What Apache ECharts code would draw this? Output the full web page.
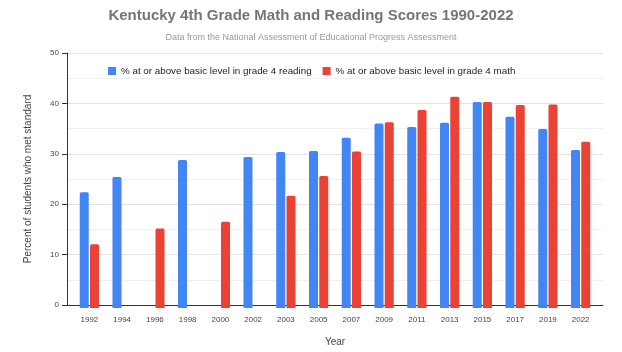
<!DOCTYPE html>
<html><head><meta charset="utf-8">
<script src="https://cdn.jsdelivr.net/npm/echarts@6/dist/echarts.min.js"></script>
<style>html,body{margin:0;padding:0;background:#fff}#c{width:622px;height:352px}</style>
</head><body><div id="c"></div>
<script>
const years = ['1992','1994','1996','1998','2000','2002','2003','2005','2007','2009','2011','2013','2015','2017','2019','2022'];
const reading = [22.7, 25.7, null, 29.0, null, 29.6, 30.6, 30.8, 33.4, 36.2, 35.5, 36.3, 40.4, 37.5, 35.1, 31.0];
const math = [12.5, null, 15.6, null, 16.9, null, 22.0, 25.9, 30.7, 36.4, 38.8, 41.4, 40.4, 39.8, 39.9, 32.6];
const seriesNames = ['% at or above basic level in grade 4 reading', '% at or above basic level in grade 4 math'];

const F = 'Arial, "Liberation Sans", sans-serif';
const chart = echarts.init(document.getElementById('c'), null, {renderer:'canvas'});
chart.setOption({
  animation:false,
  title:{
    text:'Kentucky 4th Grade Math and Reading Scores 1990-2022',
    subtext:'Data from the National Assessment of Educational Progress Assessment',
    left:'center', top:3, itemGap:10,
    textStyle:{fontFamily:F, fontSize:15, fontWeight:'bold', color:'#757575'},
    subtextStyle:{fontFamily:F, fontSize:9, color:'#999'}
  },
  legend:{
    left:103, top:61, itemWidth:8, itemHeight:8, itemGap:11, icon:'rect',
    textStyle:{fontFamily:F, fontSize:9.8, color:'#222'}
  },
  grid:[
    {left:67, right:19, top:53, bottom:44, containLabel:false},
    {left:73, right:25, top:53, bottom:44, containLabel:false}
  ],
  xAxis:[
    {
      gridIndex:0, type:'value', min:0, max:1,
      name:'Year', nameLocation:'middle', nameGap:32,
      nameTextStyle:{fontFamily:F, fontSize:10, color:'#444'},
      axisLine:{show:true, lineStyle:{color:'#333'}},
      axisTick:{show:false}, axisLabel:{show:false}, splitLine:{show:false}
    },
    {
      gridIndex:1, type:'category', data:years,
      axisLine:{show:false},
      axisTick:{show:false},
      axisLabel:{fontFamily:F, fontSize:8, color:'#444', margin:8, interval:0}
    }
  ],
  yAxis:[
    {
      gridIndex:0, type:'value', min:0, max:50, interval:10,
      name:'Percent of students who met standard', nameLocation:'middle', nameGap:34,
      nameTextStyle:{fontFamily:F, fontSize:10, color:'#444'},
      axisLine:{show:true, lineStyle:{color:'#333'}},
      axisTick:{show:true, length:5, lineStyle:{color:'#333'}},
      axisLabel:{fontFamily:F, fontSize:8, color:'#444', margin:8},
      splitLine:{lineStyle:{color:'#e3e3e3'}},
      minorTick:{show:false, splitNumber:2},
      minorSplitLine:{show:true, lineStyle:{color:'#efefef'}}
    },
    {
      gridIndex:1, type:'value', min:0, max:50, show:false
    }
  ],
  series:[
    {name:seriesNames[0], type:'bar', xAxisIndex:1, yAxisIndex:1, data:reading, barWidth:9, barGap:'14%', itemStyle:{color:'#4285F4', borderRadius:[1.5,1.5,0,0]}},
    {name:seriesNames[1], type:'bar', xAxisIndex:1, yAxisIndex:1, data:math, barWidth:9, itemStyle:{color:'#EA4335', borderRadius:[1.5,1.5,0,0]}}
  ]
});
</script></body></html>
